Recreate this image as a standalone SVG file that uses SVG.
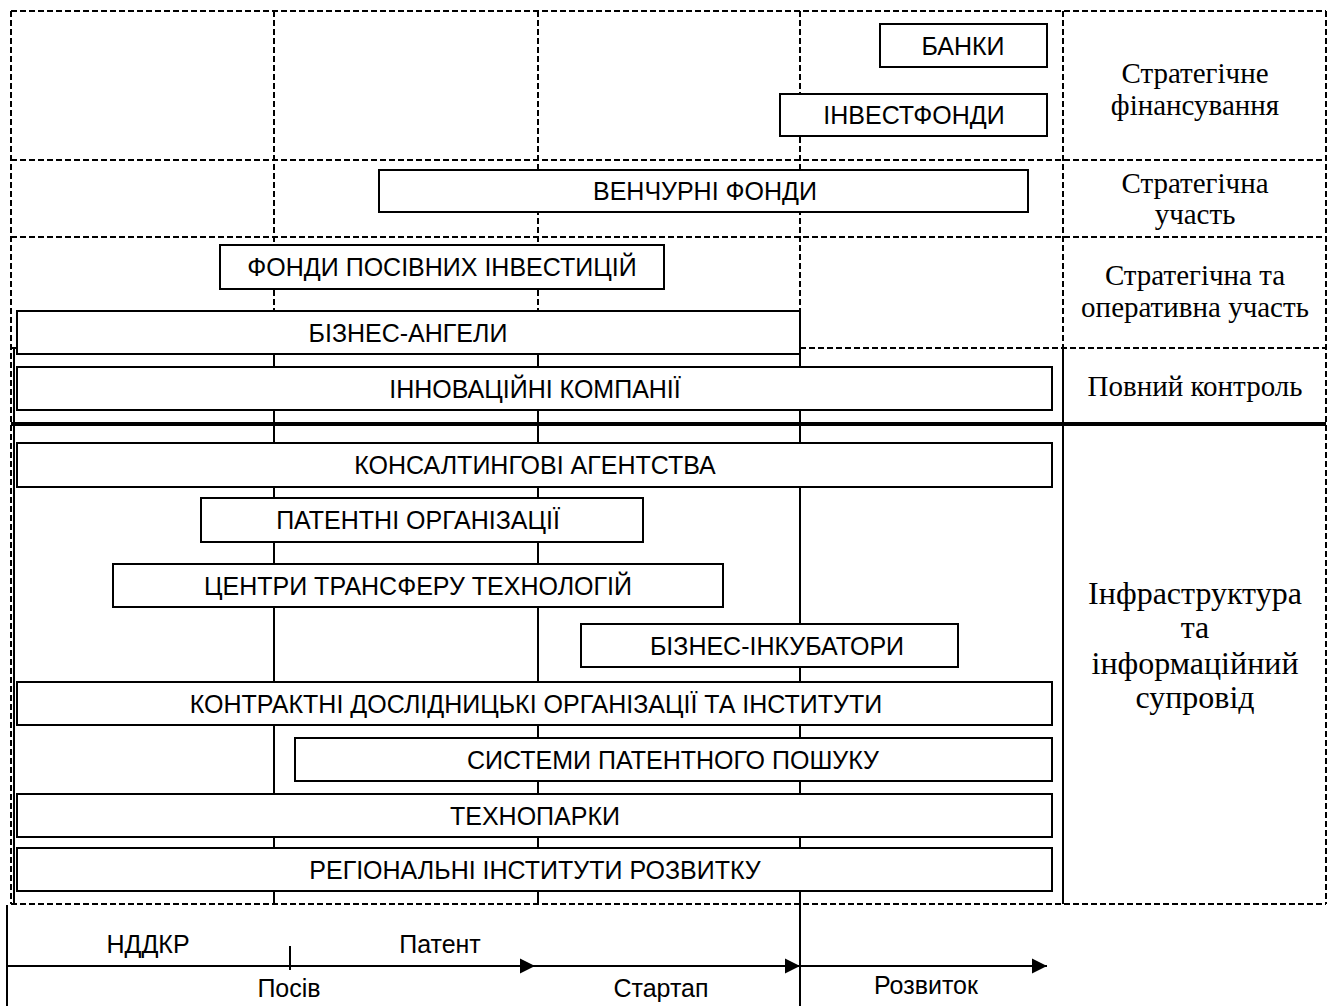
<svg xmlns="http://www.w3.org/2000/svg" width="1330" height="1006" viewBox="0 0 1330 1006">
<style>
.bg{fill:#ffffff}
.dash{fill:none;stroke:#000;stroke-width:2;stroke-dasharray:6 3}
.solid{fill:none;stroke:#000;stroke-width:2}
.thick{fill:none;stroke:#000;stroke-width:4}
.box{fill:#fff;stroke:#000;stroke-width:2}
.bt{font-family:"Liberation Sans",Arial,sans-serif;font-size:25px;fill:#000;text-anchor:middle}
.st{font-family:"Liberation Serif","Times New Roman",serif;font-size:29px;fill:#000;text-anchor:middle}
.stb{font-family:"Liberation Serif","Times New Roman",serif;font-size:32px;fill:#000;text-anchor:middle}
.ax{font-family:"Liberation Sans",Arial,sans-serif;font-size:25px;fill:#000;text-anchor:middle}
.axl{fill:none;stroke:#000;stroke-width:2}
</style>
<defs>
<marker id="arr" markerUnits="userSpaceOnUse" markerWidth="16" markerHeight="16" refX="15" refY="8" orient="auto">
<path d="M0,0.5 L15,8 L0,15.5 Z" fill="#000"/>
</marker>
</defs>
<rect class="bg" x="0" y="0" width="1330" height="1006"/>

<g id="grid">
<line class="dash" x1="11" y1="11" x2="1326" y2="11"/>
<line class="dash" x1="11" y1="160" x2="1326" y2="160"/>
<line class="dash" x1="11" y1="237" x2="1326" y2="237"/>
<line class="solid" x1="11" y1="348" x2="800" y2="348"/>
<line class="dash" x1="800" y1="348" x2="1326" y2="348"/>
<line class="thick" x1="11" y1="424" x2="1326" y2="424"/>
<line class="dash" x1="11" y1="904" x2="1326" y2="904"/>
<line class="dash" x1="11" y1="11" x2="11" y2="904"/>
<line class="solid" x1="14" y1="348" x2="14" y2="904"/>
<line class="dash" x1="1326" y1="11" x2="1326" y2="904"/>
<line class="dash" x1="274" y1="11" x2="274" y2="348"/>
<line class="solid" x1="274" y1="348" x2="274" y2="904"/>
<line class="dash" x1="538" y1="11" x2="538" y2="348"/>
<line class="solid" x1="538" y1="348" x2="538" y2="904"/>
<line class="dash" x1="800" y1="11" x2="800" y2="348"/>
<line class="solid" x1="800" y1="348" x2="800" y2="1006"/>
<line class="dash" x1="1063" y1="11" x2="1063" y2="348"/>
<line class="solid" x1="1063" y1="348" x2="1063" y2="904"/>
</g>

<g id="n-banky"><rect class="box" x="880" y="24" width="167" height="43"/><text class="bt" x="963" y="54.5">БАНКИ</text></g>
<g id="n-investfondy"><rect class="box" x="780" y="94" width="267" height="42"/><text class="bt" x="914" y="124">ІНВЕСТФОНДИ</text></g>
<g id="n-venchurni"><rect class="box" x="379" y="170" width="649" height="42"/><text class="bt" x="705" y="200">ВЕНЧУРНІ ФОНДИ</text></g>
<g id="n-posivni"><rect class="box" x="220" y="245" width="444" height="44"/><text class="bt" x="442" y="276">ФОНДИ ПОСІВНИХ ІНВЕСТИЦІЙ</text></g>
<g id="n-angely"><rect class="box" x="17" y="311" width="783" height="43"/><text class="bt" x="408" y="341.5">БІЗНЕС-АНГЕЛИ</text></g>
<g id="n-innov"><rect class="box" x="17" y="367" width="1035" height="43"/><text class="bt" x="535" y="397.5">ІННОВАЦІЙНІ КОМПАНІЇ</text></g>
<g id="n-konsalt"><rect class="box" x="17" y="443" width="1035" height="44"/><text class="bt" x="535" y="474">КОНСАЛТИНГОВІ АГЕНТСТВА</text></g>
<g id="n-patent"><rect class="box" x="201" y="498" width="442" height="44"/><text class="bt" x="418" y="529">ПАТЕНТНІ ОРГАНІЗАЦІЇ</text></g>
<g id="n-centry"><rect class="box" x="113" y="564" width="610" height="43"/><text class="bt" x="418" y="594.5">ЦЕНТРИ ТРАНСФЕРУ ТЕХНОЛОГІЙ</text></g>
<g id="n-inkub"><rect class="box" x="581" y="624" width="377" height="43"/><text class="bt" x="777" y="654.5">БІЗНЕС-ІНКУБАТОРИ</text></g>
<g id="n-kontrakt"><rect class="box" x="17" y="682" width="1035" height="43"/><text class="bt" x="536" y="712.5">КОНТРАКТНІ ДОСЛІДНИЦЬКІ ОРГАНІЗАЦІЇ ТА ІНСТИТУТИ</text></g>
<g id="n-systemy"><rect class="box" x="295" y="738" width="757" height="43"/><text class="bt" x="673" y="768.5">СИСТЕМИ ПАТЕНТНОГО ПОШУКУ</text></g>
<g id="n-tekhnoparky"><rect class="box" x="17" y="794" width="1035" height="43"/><text class="bt" x="535" y="824.5">ТЕХНОПАРКИ</text></g>
<g id="n-rehion"><rect class="box" x="17" y="848" width="1035" height="43"/><text class="bt" x="535" y="878.5">РЕГІОНАЛЬНІ ІНСТИТУТИ РОЗВИТКУ</text></g>

<g id="labels">
<text class="st" x="1195" y="83">Стратегічне</text>
<text class="st" x="1195" y="115">фінансування</text>
<text class="st" x="1195" y="193">Стратегічна</text>
<text class="st" x="1195" y="224">участь</text>
<text class="st" x="1195" y="285">Стратегічна та</text>
<text class="st" x="1195" y="317">оперативна участь</text>
<text class="st" x="1195" y="396">Повний контроль</text>
<text class="stb" x="1195" y="604">Інфраструктура</text>
<text class="stb" x="1195" y="638">та</text>
<text class="stb" x="1195" y="674">інформаційний</text>
<text class="stb" x="1195" y="708">супровід</text>
</g>

<g id="connectors">
<line class="axl" x1="7" y1="905" x2="7" y2="1006"/>
<line class="axl" x1="7" y1="966" x2="535" y2="966" marker-end="url(#arr)"/>
<line class="axl" x1="535" y1="966" x2="800" y2="966" marker-end="url(#arr)"/>
<line class="axl" x1="800" y1="966" x2="1047" y2="966" marker-end="url(#arr)"/>
<line class="axl" x1="290" y1="946" x2="290" y2="970"/>
</g>

<g id="axis-labels">
<text class="ax" x="148" y="953">НДДКР</text>
<text class="ax" x="440" y="953">Патент</text>
<text class="ax" x="289" y="997">Посів</text>
<text class="ax" x="661" y="997">Стартап</text>
<text class="ax" x="926" y="994">Розвиток</text>
</g>
</svg>
